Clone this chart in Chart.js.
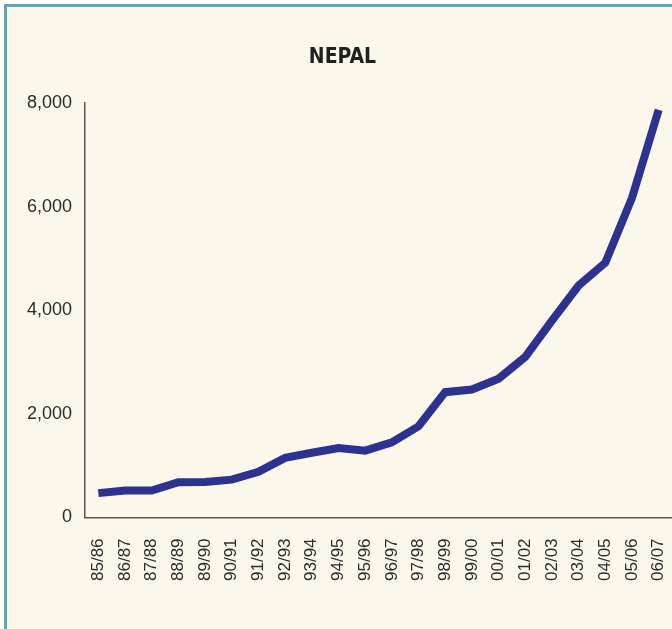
<!DOCTYPE html>
<html>
<head>
<meta charset="utf-8">
<script src="https://cdn.jsdelivr.net/npm/chart.js@4.4.1/dist/chart.umd.min.js"></script>
<style>
	html, body { margin: 0; padding: 0; background: #ffffff; }
	#frame {
		position: absolute; left: 4px; top: 4px; width: 700px; height: 660px;
		border-left: 3px solid #6aa3a9; border-top: 3px solid #6aa3a9;
		background: #fcf7eb;
	}
	#wrap { position: absolute; left: 0; top: 0; width: 672px; height: 629px; }
</style>
</head>
<body>
<div id="frame"></div>
<div id="wrap"><canvas id="nepal"></canvas></div>
<script>
// fiscal years and values
const years = ['85/86', '86/87', '87/88', '88/89', '89/90', '90/91', '91/92', '92/93', '93/94', '94/95', '95/96',
	'96/97', '97/98', '98/99', '99/00', '00/01', '01/02', '02/03', '03/04', '04/05', '05/06', '06/07'];
const values = [470, 520, 520, 680, 685, 730, 880, 1150, 1250, 1340, 1290,
	1450, 1760, 2420, 2470, 2680, 3100, 3800, 4480, 4920, 6170, 7870];
const yTicks = [0, 2000, 4000, 6000, 8000];

const fontFamily = "'Liberation Sans', Arial, sans-serif";
const titleFamily = "'DejaVu Sans Condensed', 'Liberation Sans', sans-serif";

var ctx = document.getElementById('nepal');

var chartData = {
	labels: years,
	datasets: [
		{
			data: values,
			borderColor: '#2d3190',
			borderWidth: 8,
			tension: 0,
			pointRadius: 0,
			fill: false
		}
	]
}

var chartOptions = {
	responsive: true,
	maintainAspectRatio: false,
	animation: false,
	layout: { padding: { top: 35, left: 13, right: 0, bottom: 27 } },
	plugins: {
		title: {
			text: 'NEPAL',
			display: true,
			color: '#231f20',
			font: { family: titleFamily, size: 21, weight: 'bold' },
			padding: { top: 10, bottom: 33 }
		},
		legend: { display: false },
		tooltip: { enabled: false }
	},
	scales: {
		x: {
			offset: true,
			grid: { display: false, drawTicks: false },
			border: { display: true, color: '#5a5652', width: 1.5 },
			// the rotated labels should not push the plot in from the right
			afterFit: (scale) => { scale.paddingRight = 0; scale.paddingLeft = 0; },
			ticks: {
				color: '#2b2b2b',
				font: { family: fontFamily, size: 17 },
				minRotation: 90,
				maxRotation: 90,
				padding: 21,
				autoSkip: false
			}
		},
		y: {
			min: 0,
			max: 8000,
			grid: { display: false, drawTicks: false },
			border: { display: true, color: '#5a5652', width: 1.5 },
			afterFit: (scale) => { scale.width = 72; },
			afterBuildTicks: (scale) => { scale.ticks = yTicks.map(v => ({ value: v })); },
			ticks: {
				color: '#2b2b2b',
				font: { family: fontFamily, size: 18 },
				padding: 13,
				callback: (v) => v.toLocaleString('en-US')
			}
		}
	}
}

new Chart(ctx, {
	type: 'line',
	data: chartData,
	options: chartOptions
})
</script>
</body>
</html>
